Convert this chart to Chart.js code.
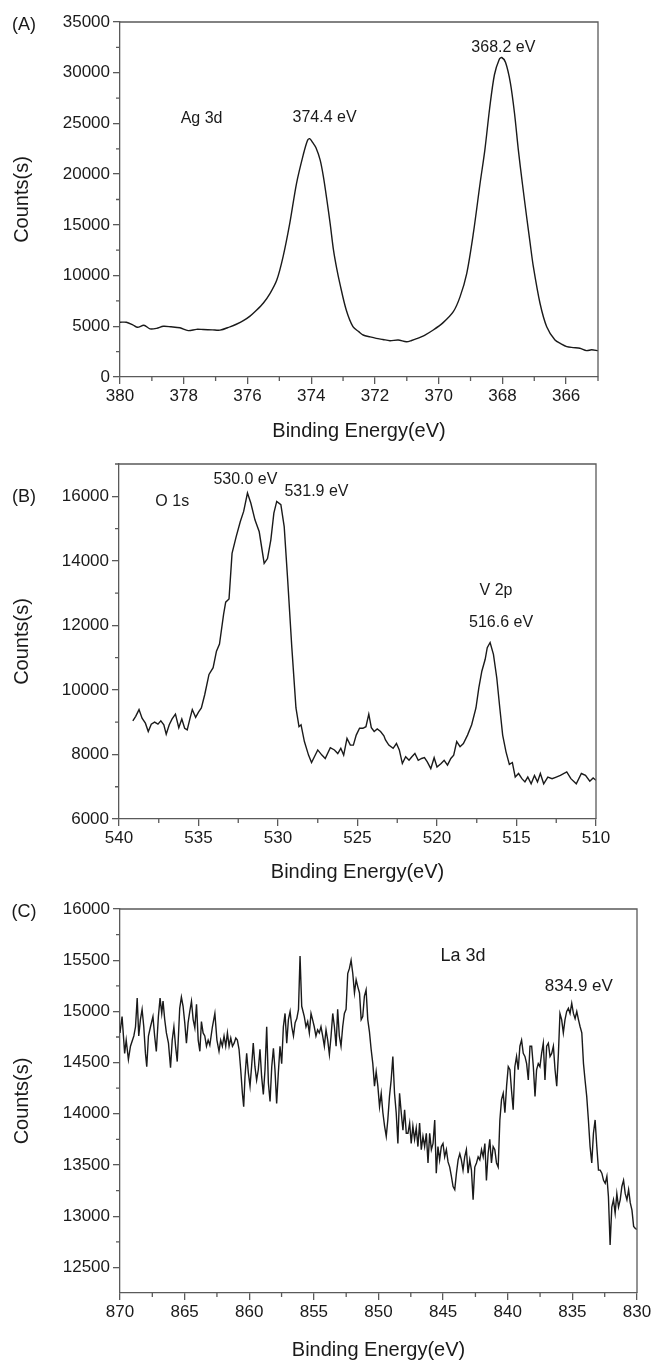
<!DOCTYPE html>
<html>
<head>
<meta charset="utf-8">
<script src="https://cdn.jsdelivr.net/npm/chart.js@4.4.0/dist/chart.umd.min.js"></script>
<style>
  html, body { margin: 0; padding: 0; background: #fff; }
  #wrap { position: relative; width: 656px; height: 1362px; }
  canvas { position: absolute; left: 0; }
</style>
</head>
<body>
<div id="wrap">
  <canvas id="chartA" width="656" height="445" style="top:0"></canvas>
  <canvas id="chartB" width="656" height="445" style="top:445px"></canvas>
  <canvas id="chartC" width="656" height="472" style="top:890px"></canvas>
</div>
<script>
// (A) Ag 3d
const energyA = [380.0, 379.8, 379.6, 379.45, 379.25, 379.06, 378.85, 378.64, 378.4, 378.12, 377.86, 377.6, 377.39, 377.1, 376.86, 376.55, 376.35, 376.13, 375.92, 375.71, 375.5, 375.29, 375.08, 374.88, 374.67, 374.46, 374.25, 374.12, 374.05, 373.95, 373.85, 373.72, 373.62, 373.51, 373.4, 373.3, 373.2, 373.1, 372.9, 372.69, 372.5, 372.37, 372.15, 371.96, 371.75, 371.53, 371.27, 371.01, 370.85, 370.69, 370.43, 370.17, 369.86, 369.54, 369.33, 369.12, 368.91, 368.7, 368.55, 368.4, 368.25, 368.1, 368.02, 367.9, 367.75, 367.62, 367.5, 367.37, 367.24, 367.13, 367.03, 366.82, 366.61, 366.35, 366.15, 365.98, 365.78, 365.57, 365.36, 365.2, 365.0];
const countsA = [5400, 5400, 5150, 4900, 5100, 4750, 4800, 5000, 4950, 4850, 4570, 4700, 4680, 4650, 4620, 4950, 5200, 5550, 6000, 6600, 7300, 8250, 9560, 11900, 15200, 19100, 21900, 23300, 23500, 23100, 22600, 21400, 19800, 17500, 15000, 12500, 10700, 9200, 6600, 4960, 4450, 4140, 3950, 3810, 3700, 3580, 3650, 3480, 3600, 3780, 4140, 4630, 5360, 6440, 7900, 10200, 14200, 19100, 22400, 26500, 29800, 31300, 31500, 31000, 29000, 26000, 22400, 19000, 15800, 13200, 10900, 7270, 4960, 3650, 3250, 2990, 2900, 2830, 2600, 2680, 2600];
const xTicksA = [380, 378, 376, 374, 372, 370, 368, 366];
const xMinorA = [379, 377, 375, 373, 371, 369, 367, 365];
const yTicksA = [0, 5000, 10000, 15000, 20000, 25000, 30000, 35000];
const yMinorA = [2500, 7500, 12500, 17500, 22500, 27500, 32500];

// (B) O 1s / V 2p
const energyB = [539.13, 538.95, 538.74, 538.55, 538.34, 538.16, 537.97, 537.76, 537.55, 537.37, 537.18, 537.03, 536.84, 536.66, 536.45, 536.24, 536.05, 535.87, 535.71, 535.53, 535.39, 535.18, 535.0, 534.82, 534.61, 534.34, 534.08, 533.87, 533.68, 533.42, 533.29, 533.08, 532.89, 532.63, 532.37, 532.16, 531.92, 531.71, 531.45, 531.18, 530.87, 530.66, 530.45, 530.26, 530.08, 529.82, 529.61, 529.39, 529.13, 528.87, 528.68, 528.55, 528.34, 528.08, 527.89, 527.71, 527.5, 527.24, 527.03, 526.71, 526.45, 526.24, 526.05, 525.87, 525.66, 525.45, 525.26, 525.08, 524.87, 524.66, 524.47, 524.29, 524.13, 523.95, 523.76, 523.55, 523.34, 523.24, 523.03, 522.76, 522.55, 522.37, 522.18, 521.97, 521.76, 521.58, 521.39, 521.18, 520.97, 520.79, 520.61, 520.39, 520.18, 520.0, 519.74, 519.55, 519.34, 519.13, 518.95, 518.76, 518.55, 518.34, 518.08, 517.82, 517.55, 517.37, 517.18, 516.97, 516.84, 516.66, 516.45, 516.24, 516.05, 515.87, 515.66, 515.45, 515.26, 515.08, 514.87, 514.66, 514.47, 514.29, 514.08, 513.87, 513.68, 513.5, 513.29, 513.03, 512.76, 512.5, 512.24, 511.84, 511.58, 511.24, 510.92, 510.66, 510.39, 510.18, 510.0];
const countsB = [9040, 9180, 9390, 9125, 8970, 8710, 8940, 9000, 8940, 9040, 8920, 8625, 8920, 9100, 9250, 8830, 9100, 8810, 8760, 9125, 9390, 9150, 9310, 9440, 9850, 10480, 10690, 11200, 11420, 12350, 12720, 12820, 14230, 14750, 15220, 15530, 16100, 15790, 15270, 14900, 13920, 14070, 14650, 15480, 15840, 15740, 15060, 13400, 11310, 9440, 8860, 8920, 8400, 7980, 7750, 7930, 8140, 7980, 7875, 8210, 8140, 8030, 8190, 7980, 8500, 8290, 8290, 8600, 8810, 8810, 8860, 9250, 8830, 8710, 8790, 8710, 8580, 8450, 8290, 8190, 8340, 8140, 7720, 7930, 7820, 7930, 8030, 7820, 7875, 7900, 7770, 7560, 7900, 7610, 7720, 7820, 7670, 7875, 7980, 8400, 8240, 8340, 8600, 8920, 9440, 10060, 10580, 10950, 11310, 11470, 11100, 10370, 9440, 8600, 8080, 7690, 7750, 7300, 7410, 7250, 7150, 7300, 7090, 7350, 7150, 7410, 7090, 7300, 7250, 7300, 7350, 7460, 7250, 7090, 7410, 7350, 7170, 7270, 7200];
const xTicksB = [540, 535, 530, 525, 520, 515, 510];
const xMinorB = [537.5, 532.5, 527.5, 522.5, 517.5, 512.5];
const yTicksB = [6000, 8000, 10000, 12000, 14000, 16000];
const yMinorB = [7000, 9000, 11000, 13000, 15000, 17000];

// (C) La 3d
const energyC = [870.00, 869.84, 869.64, 869.52, 869.35, 869.19, 868.93, 868.80, 868.67, 868.55, 868.42, 868.29, 868.16, 868.03, 867.93, 867.80, 867.64, 867.45, 867.32, 867.19, 867.03, 866.90, 866.77, 866.67, 866.54, 866.41, 866.25, 866.09, 865.96, 865.83, 865.70, 865.57, 865.38, 865.25, 865.12, 864.99, 864.86, 864.73, 864.60, 864.47, 864.34, 864.21, 864.08, 863.95, 863.82, 863.70, 863.57, 863.44, 863.31, 863.18, 863.05, 862.85, 862.66, 862.50, 862.34, 862.21, 862.08, 861.95, 861.82, 861.69, 861.56, 861.43, 861.30, 861.17, 861.04, 860.92, 860.79, 860.66, 860.53, 860.43, 860.33, 860.20, 860.07, 859.94, 859.82, 859.69, 859.56, 859.43, 859.30, 859.17, 859.04, 858.91, 858.78, 858.65, 858.52, 858.39, 858.26, 858.13, 858.01, 857.88, 857.75, 857.62, 857.49, 857.36, 857.23, 857.10, 856.97, 856.84, 856.71, 856.58, 856.45, 856.32, 856.19, 856.07, 855.94, 855.74, 855.61, 855.48, 855.35, 855.22, 855.10, 854.97, 854.84, 854.71, 854.58, 854.45, 854.32, 854.19, 854.06, 853.93, 853.80, 853.67, 853.54, 853.41, 853.28, 853.16, 853.03, 852.90, 852.77, 852.64, 852.51, 852.38, 852.25, 852.12, 851.99, 851.86, 851.73, 851.60, 851.47, 851.34, 851.22, 851.09, 850.96, 850.83, 850.70, 850.57, 850.44, 850.31, 850.18, 850.05, 849.92, 849.79, 849.66, 849.53, 849.40, 849.28, 849.15, 849.02, 848.89, 848.76, 848.63, 848.50, 848.37, 848.24, 848.11, 847.98, 847.85, 847.72, 847.59, 847.47, 847.34, 847.21, 847.08, 846.95, 846.82, 846.69, 846.56, 846.43, 846.30, 846.17, 846.04, 845.91, 845.78, 845.65, 845.53, 845.40, 845.27, 845.14, 845.01, 844.88, 844.75, 844.62, 844.49, 844.36, 844.23, 844.10, 843.97, 843.84, 843.71, 843.59, 843.46, 843.33, 843.20, 843.07, 842.94, 842.81, 842.68, 842.55, 842.42, 842.29, 842.16, 842.03, 841.90, 841.77, 841.65, 841.52, 841.39, 841.26, 841.13, 841.00, 840.87, 840.74, 840.61, 840.48, 840.35, 840.22, 840.09, 839.96, 839.83, 839.71, 839.58, 839.45, 839.32, 839.19, 839.06, 838.93, 838.80, 838.67, 838.54, 838.41, 838.28, 838.15, 838.02, 837.89, 837.77, 837.64, 837.51, 837.38, 837.25, 837.12, 836.99, 836.86, 836.73, 836.60, 836.47, 836.34, 836.21, 836.08, 835.96, 835.83, 835.70, 835.57, 835.44, 835.31, 835.18, 835.05, 834.92, 834.79, 834.66, 834.53, 834.40, 834.27, 834.14, 834.02, 833.89, 833.76, 833.63, 833.50, 833.37, 833.24, 833.11, 832.98, 832.85, 832.72, 832.59, 832.46, 832.33, 832.21, 832.08, 831.95, 831.82, 831.69, 831.56, 831.43, 831.30, 831.17, 831.04, 830.91, 830.78, 830.65, 830.52, 830.39, 830.26, 830.13, 830.01];
const countsC = [14790, 14950, 14590, 14720, 14530, 14660, 14760, 14850, 15130, 14760, 14920, 15020, 14850, 14590, 14460, 14760, 14850, 14950, 14760, 14610, 14950, 15130, 14980, 15100, 14920, 14790, 14690, 14450, 14720, 14850, 14660, 14510, 15030, 15140, 15050, 14890, 14690, 14890, 15000, 15100, 14920, 14840, 15070, 14720, 14610, 14900, 14790, 14760, 14660, 14720, 14670, 14850, 14980, 14720, 14610, 14720, 14660, 14760, 14660, 14790, 14660, 14740, 14660, 14690, 14740, 14720, 14630, 14430, 14200, 14070, 14360, 14590, 14400, 14270, 14460, 14690, 14460, 14330, 14430, 14630, 14360, 14190, 14430, 14850, 14300, 14120, 14460, 14640, 14430, 14100, 14400, 14660, 14490, 14850, 14980, 14690, 14920, 15000, 14850, 14760, 14890, 14930, 15020, 15540, 15050, 14950, 14850, 14900, 14790, 14980, 14920, 14850, 14760, 14820, 14790, 14850, 14760, 14660, 14820, 14720, 14580, 14760, 14980, 14850, 14660, 15020, 14760, 14660, 14850, 14980, 15020, 15370, 15420, 15500, 15370, 15180, 15310, 15240, 15180, 14920, 14950, 15150, 15210, 14920, 14800, 14630, 14490, 14270, 14410, 14270, 14070, 14200, 14010, 13880, 13780, 13940, 14170, 14330, 14560, 14200, 14010, 13710, 14200, 14010, 13840, 14040, 13810, 13810, 13910, 13710, 13880, 13750, 13860, 13680, 13910, 13650, 13780, 13680, 13810, 13520, 13810, 13650, 13710, 13940, 13420, 13680, 13550, 13680, 13710, 13580, 13650, 13530, 13480, 13390, 13290, 13260, 13420, 13550, 13610, 13550, 13450, 13580, 13650, 13420, 13550, 13450, 13160, 13480, 13520, 13580, 13550, 13650, 13580, 13710, 13350, 13610, 13750, 13520, 13680, 13650, 13520, 13480, 13940, 14140, 14200, 14010, 14270, 14460, 14430, 14230, 14040, 14460, 14560, 14430, 14660, 14720, 14590, 14560, 14490, 14330, 14660, 14660, 14460, 14170, 14430, 14490, 14460, 14590, 14690, 14330, 14660, 14690, 14560, 14590, 14660, 14430, 14270, 14590, 14980, 14920, 14790, 14920, 15000, 15030, 14980, 15080, 14980, 14930, 15000, 14920, 14850, 14790, 14490, 14330, 14170, 13940, 13680, 13520, 13810, 13940, 13680, 13450, 13450, 13420, 13350, 13320, 13390, 13190, 12720, 13090, 13160, 13030, 13220, 13090, 13160, 13290, 13350, 13220, 13160, 13260, 13130, 13060, 12900, 12880, 12870];
const xTicksC = [870, 865, 860, 855, 850, 845, 840, 835, 830];
const xMinorC = [867.5, 862.5, 857.5, 852.5, 847.5, 842.5, 837.5, 832.5];
const yTicksC = [12500, 13000, 13500, 14000, 14500, 15000, 15500, 16000];
const yMinorC = [12750, 13250, 13750, 14250, 14750, 15250, 15750];

const FONT = "'Liberation Sans', Arial, sans-serif";
const INK = '#1a1a1a';
const AXIS = '#5a5a5a';

function makePanel(id, o) {
  const n = Math.min(o.energy.length, o.counts.length);
  if (o.energy.length !== o.counts.length) console.error(id, 'length mismatch', o.energy.length, o.counts.length);
  const points = o.energy.slice(0, n).map((e, i) => ({ x: e, y: o.counts[i] }));

  // box top/right edges, minor ticks and the peak notes
  const frame = {
    id: 'frame',
    afterDraw(chart) {
      const { ctx, chartArea: a } = chart;
      const sx = chart.scales.x, sy = chart.scales.y;
      ctx.save();
      ctx.strokeStyle = AXIS;
      ctx.lineWidth = 1.3;
      ctx.beginPath();
      ctx.moveTo(a.left, a.top);
      ctx.lineTo(a.right, a.top);
      ctx.lineTo(a.right, a.bottom);
      o.xMinor.forEach(v => {
        const p = sx.getPixelForValue(v);
        ctx.moveTo(p, a.bottom);
        ctx.lineTo(p, a.bottom + 4);
      });
      o.yMinor.forEach(v => {
        const p = sy.getPixelForValue(v);
        ctx.moveTo(a.left, p);
        ctx.lineTo(a.left - 4, p);
      });
      ctx.stroke();

      ctx.fillStyle = INK;
      ctx.textAlign = 'center';
      ctx.textBaseline = 'middle';
      o.notes.forEach(t => {
        ctx.font = `${t.size}px ${FONT}`;
        ctx.fillText(t.text, sx.getPixelForValue(t.x), sy.getPixelForValue(t.y));
      });
      ctx.font = `18px ${FONT}`;
      ctx.fillText(o.panel, 24, o.panelY);
      ctx.restore();
    }
  };

  return new Chart(document.getElementById(id).getContext('2d'), {
    type: 'line',
    data: {
      datasets: [{
        data: points,
        borderColor: INK,
        borderWidth: 1.4,
        pointRadius: 0,
        tension: o.tension,
        fill: false
      }]
    },
    options: {
      responsive: false,
      devicePixelRatio: 1,
      animation: false,
      layout: { padding: o.pad },
      plugins: { legend: { display: false }, tooltip: { enabled: false } },
      scales: {
        x: {
          type: 'linear',
          reverse: true,
          min: o.xMin,
          max: o.xMax,
          afterBuildTicks: s => { s.ticks = o.xTicks.map(v => ({ value: v })); },
          afterFit: s => { s.height = o.xHeight; },
          ticks: {
            autoSkip: false, maxRotation: 0, padding: 2, color: INK,
            font: { family: FONT, size: 17 },
            callback: v => String(v)
          },
          grid: { drawOnChartArea: false, color: AXIS, lineWidth: 1.3, tickLength: 7 },
          border: { color: AXIS, width: 1.3 },
          title: {
            display: true, text: 'Binding Energy(eV)', color: INK,
            font: { family: FONT, size: 20 },
            padding: { top: 0, bottom: o.xTitlePad }
          }
        },
        y: {
          type: 'linear',
          min: o.yMin,
          max: o.yMax,
          afterBuildTicks: s => { s.ticks = o.yTicks.map(v => ({ value: v })); },
          afterFit: s => { s.width = o.yWidth; },
          ticks: {
            autoSkip: false, padding: 3, color: INK,
            font: { family: FONT, size: 17 },
            callback: v => String(v)
          },
          grid: { drawOnChartArea: false, color: AXIS, lineWidth: 1.3, tickLength: 7 },
          border: { color: AXIS, width: 1.3 },
          title: {
            display: true, text: 'Counts(s)', color: INK,
            font: { family: FONT, size: 20 },
            padding: { top: 10, bottom: 0 }
          }
        }
      }
    },
    plugins: [frame]
  });
}

makePanel('chartA', {
  energy: energyA, counts: countsA, tension: 0.3,
  xMin: 365, xMax: 380, yMin: 0, yMax: 35000,
  xTicks: xTicksA, xMinor: xMinorA, yTicks: yTicksA, yMinor: yMinorA,
  pad: { left: 0, top: 22, right: 58, bottom: 0 },
  xHeight: 68, yWidth: 120, xTitlePad: 2,
  panel: '(A)', panelY: 25,
  notes: [
    { text: 'Ag 3d', x: 377.44, y: 25500, size: 16 },
    { text: '374.4 eV', x: 373.58, y: 25600, size: 16 },
    { text: '368.2 eV', x: 367.97, y: 32500, size: 16 }
  ]
});

makePanel('chartB', {
  energy: energyB, counts: countsB, tension: 0,
  xMin: 510, xMax: 540, yMin: 6000, yMax: 17000,
  xTicks: xTicksB, xMinor: xMinorB, yTicks: yTicksB, yMinor: yMinorB,
  pad: { left: 0, top: 19, right: 60, bottom: 0 },
  xHeight: 71, yWidth: 119, xTitlePad: 6,
  panel: '(B)', panelY: 52,
  notes: [
    { text: 'O 1s', x: 536.65, y: 15850, size: 16 },
    { text: '530.0 eV', x: 532.05, y: 16520, size: 16 },
    { text: '531.9 eV', x: 527.58, y: 16160, size: 16 },
    { text: 'V 2p', x: 516.29, y: 13080, size: 16 },
    { text: '516.6 eV', x: 515.97, y: 12090, size: 16 }
  ]
});

makePanel('chartC', {
  energy: energyC, counts: countsC, tension: 0,
  xMin: 830, xMax: 870, yMin: 12250, yMax: 16000,
  xTicks: xTicksC, xMinor: xMinorC, yTicks: yTicksC, yMinor: yMinorC,
  pad: { left: 0, top: 19, right: 19, bottom: 0 },
  xHeight: 69, yWidth: 120, xTitlePad: 0,
  panel: '(C)', panelY: 22,
  notes: [
    { text: 'La 3d', x: 843.46, y: 15544, size: 18 },
    { text: '834.9 eV', x: 834.5, y: 15244, size: 17 }
  ]
});
</script>
</body>
</html>
